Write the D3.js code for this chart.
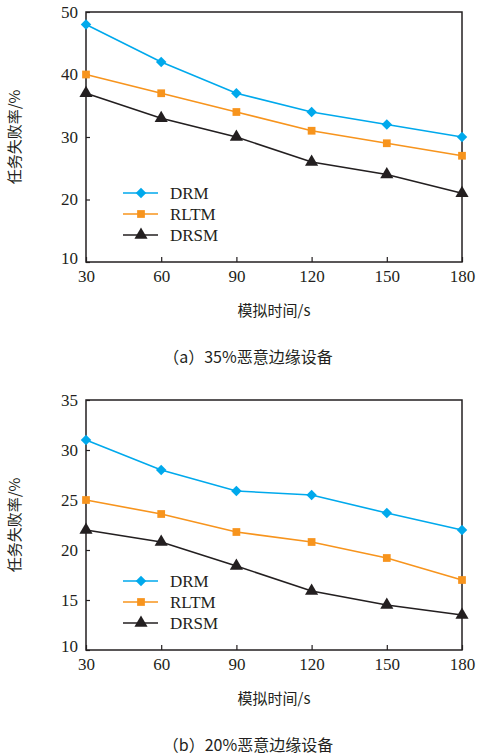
<!DOCTYPE html>
<html lang="zh">
<head>
<meta charset="utf-8">
<title>任务失败率</title>
<script src="https://cdn.jsdelivr.net/npm/d3@7"></script>
<style>
  body{margin:0;background:#fff;}
  svg{display:block;}
</style>
</head>
<body>
<div id="chart"></div>
<script>
// simulation time (s)
var times = [30, 60, 90, 120, 150, 180]
var seriesNames = ["DRM", "RLTM", "DRSM"]
var seriesColors = ["#00a9ec", "#f7941d", "#231f20"]
var seriesShapes = [d3.symbolSquare, d3.symbolSquare, d3.symbolTriangle]
var seriesRot = [45, 0, 0]
var seriesSize = [55, 60, 75]

// (a) 35% malicious edge devices
var drmA  = [48, 42, 37, 34, 32, 30]
var rltmA = [40, 37, 34, 31, 29, 27]
var drsmA = [37, 33, 30, 26, 24, 21]
var yTicksA = [10, 20, 30, 40, 50]

// (b) 20% malicious edge devices
var drmB  = [31, 28, 25.9, 25.5, 23.7, 22]
var rltmB = [25, 23.6, 21.8, 20.8, 19.2, 17]
var drsmB = [22, 20.8, 18.4, 15.9, 14.5, 13.5]
var yTicksB = [10, 15, 20, 25, 30, 35]

var serif = "'Liberation Serif', 'DejaVu Serif', serif"
var cjk = "'Noto Sans CJK SC', sans-serif"

var W = 478, H = 755
var svg = d3.select("#chart").append("svg").attr("width", W).attr("height", H)

function marker(sel, k){
  sel.attr("d", d3.symbol().type(seriesShapes[k]).size(seriesSize[k]))
    .attr("fill", seriesColors[k])
}

function drawPanel(top, yDomain, yTicks, values, caption){
  var m = {left: 86, right: 462, top: top, bottom: top + 250}
  var x = d3.scaleLinear().domain([30, 180]).range([m.left, m.right])
  var y = d3.scaleLinear().domain(yDomain).range([m.bottom, m.top])
  var g = svg.append("g")

  // frame
  g.append("rect")
    .attr("x", m.left).attr("y", m.top)
    .attr("width", m.right - m.left).attr("height", m.bottom - m.top)
    .attr("fill", "none").attr("stroke", "#231f20").attr("stroke-width", 1.5)

  var xAxis = g.append("g").attr("transform", "translate(0," + m.bottom + ")")
    .call(d3.axisBottom(x).tickValues(times).tickSizeInner(-5).tickSizeOuter(0).tickPadding(8))
  var yAxis = g.append("g").attr("transform", "translate(" + m.left + ",0)")
    .call(d3.axisLeft(y).tickValues(yTicks).tickSizeInner(-4).tickSizeOuter(0).tickPadding(8))

  ;[xAxis, yAxis].forEach(function(ax){
    ax.select(".domain").remove()
    ax.attr("font-family", null).attr("font-size", null)
    ax.selectAll("line").attr("stroke", "#231f20").attr("stroke-width", 1.2)
    ax.selectAll("text").style("font-family", serif).style("font-size", "17px").attr("fill", "#231f20")
  })
  yAxis.selectAll(".tick text").filter(function(d){ return d == yDomain[0] }).attr("dy", "0.1em")

  var line = d3.line().x(function(d, i){ return x(times[i]) }).y(function(d){ return y(d) })

  values.forEach(function(vals, k){
    g.append("path").datum(vals)
      .attr("d", line).attr("fill", "none")
      .attr("stroke", seriesColors[k]).attr("stroke-width", 1.6)
    g.selectAll(".pt" + k).data(vals).enter().append("path")
      .attr("transform", function(d, i){
        return "translate(" + x(times[i]) + "," + y(d) + ") rotate(" + seriesRot[k] + ")"
      })
      .call(marker, k)
  })

  // legend
  var lx = 123, ly = m.top + 181
  seriesNames.forEach(function(name, k){
    var yy = ly + k * 21
    g.append("line").attr("x1", lx).attr("x2", lx + 35).attr("y1", yy).attr("y2", yy)
      .attr("stroke", seriesColors[k]).attr("stroke-width", 1.6)
    g.append("path").attr("transform", "translate(" + (lx + 18) + "," + yy + ") rotate(" + seriesRot[k] + ")")
      .call(marker, k)
    g.append("text").attr("x", lx + 47).attr("y", yy + 6)
      .style("font-family", serif).style("font-size", "17px")
      .attr("fill", "#231f20").text(name)
  })

  // y title
  g.append("text")
    .attr("transform", "translate(20," + ((m.top + m.bottom) / 2) + ") rotate(-90)")
    .attr("text-anchor", "middle")
    .style("font-family", cjk).style("font-size", "15px").attr("fill", "#231f20")
    .text("任务失败率/%")

  // x title
  g.append("text")
    .attr("x", (m.left + m.right) / 2).attr("y", m.bottom + 54)
    .attr("text-anchor", "middle")
    .style("font-family", cjk).style("font-size", "15px").attr("fill", "#231f20")
    .text("模拟时间/s")

  // caption
  g.append("text")
    .attr("x", 248).attr("y", m.bottom + 101)
    .attr("text-anchor", "middle")
    .style("font-family", cjk).style("font-size", "16px").attr("fill", "#231f20")
    .text(caption)
}

drawPanel(12, [10, 50], yTicksA, [drmA, rltmA, drsmA], "（a）35%恶意边缘设备")
drawPanel(400, [10, 35], yTicksB, [drmB, rltmB, drsmB], "（b）20%恶意边缘设备")
</script>
</body>
</html>
